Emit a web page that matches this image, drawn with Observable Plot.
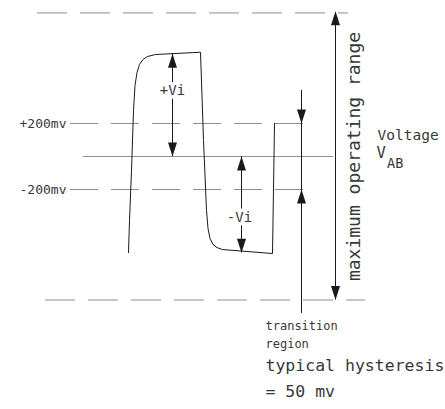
<!DOCTYPE html>
<html>
<head>
<meta charset="utf-8">
<script src="https://cdn.jsdelivr.net/npm/d3@7"></script>
<script src="https://cdn.jsdelivr.net/npm/@observablehq/plot@0.6"></script>
<style>
html, body { margin: 0; padding: 0; background: #fff; }
#chart svg { display: block; }
</style>
</head>
<body>
<div id="chart"></div>
<script>
// ---- data (time in arbitrary units, voltage V_AB in mV) ----
const thresholdLevels = [200, -200];
const thresholdLabels = ["+200mv", "-200mv"];
const rangeLimits = [870, -870];          // maximum operating range
const waveT  = [128, 129, 131, 133, 134.5, 136.5, 139, 142.5, 147, 155, 200, 203, 206, 207.5, 209.5, 212.5, 216.5, 222, 272, 274];
const waveMv = [-582, -388, -85, 279, 430, 509, 558, 588, 606, 618, 632, 97, -327, -436, -497, -533, -552, -564, -588, 200];
const viHighMv = 622;   // +Vi level
const viLowMv = -584;   // -Vi level
const arrowT = { plusVi: 172, minusVi: 241, transition: 301, range: 335 };
const transitionEndMv = [400, -951];
const labelsVi = ["+Vi", "-Vi"];
const labelVoltage = ["Voltage"];
const labelRange = ["maximum operating range"];
const labelTransition = ["transition", "region"];
const labelHysteresis = ["typical hysteresis", "= 50 mv"];

const wave = waveT.map((t, i) => ({ t, mv: waveMv[i] }));
const shafts = [
  { t: arrowT.plusVi, y1: 0, y2: viHighMv },
  { t: arrowT.minusVi, y1: 0, y2: viLowMv },
  { t: arrowT.transition, y1: transitionEndMv[0], y2: transitionEndMv[1] },
  { t: arrowT.range, y1: rangeLimits[0], y2: rangeLimits[1] }
];
const upHeads = [
  { t: arrowT.plusVi, mv: viHighMv },
  { t: arrowT.minusVi, mv: 0 },
  { t: arrowT.transition, mv: thresholdLevels[1] },
  { t: arrowT.range, mv: rangeLimits[0] + 10 }
];
const downHeads = [
  { t: arrowT.plusVi, mv: 0 },
  { t: arrowT.minusVi, mv: viLowMv },
  { t: arrowT.transition, mv: thresholdLevels[0] },
  { t: arrowT.range, mv: rangeLimits[1] }
];

const arrowUp = { draw(c) { c.moveTo(0, 0); c.lineTo(4.5, 14); c.lineTo(-4.5, 14); c.closePath(); } };
const arrowDown = { draw(c) { c.moveTo(0, 0); c.lineTo(4.5, -14); c.lineTo(-4.5, -14); c.closePath(); } };

const gray = "#8e8e8e";
const ink = "#1a1a1a";
const textInk = "#383838";
const font = "DejaVu Sans Mono";

const chart = Plot.plot({
  width: 445,
  height: 409,
  margin: 0,
  x: { domain: [0, 445], range: [0, 445], axis: null },
  y: { domain: [-1533.33, 945.45], range: [409, 0], axis: null },
  style: { fontFamily: font, background: "#fff", color: ink },
  marks: [
    Plot.ruleY([rangeLimits[0]], { x1: 37, x2: 348, stroke: gray, strokeDasharray: "30,13" }),
    Plot.ruleY([rangeLimits[1]], { x1: 45, x2: 365, stroke: gray, strokeDasharray: "30,13" }),
    Plot.ruleY(thresholdLevels, { x1: 70, x2: 310, stroke: gray, strokeDasharray: "28,13" }),
    Plot.ruleY([0], { x1: 83, x2: 333, stroke: gray }),
    Plot.line(wave, { x: "t", y: "mv", stroke: ink, strokeWidth: 1 }),
    Plot.ruleX(shafts, { x: "t", y1: "y1", y2: "y2", stroke: ink, strokeWidth: 1 }),
    Plot.dot(upHeads, { x: "t", y: "mv", symbol: arrowUp, fill: ink, stroke: "none" }),
    Plot.dot(downHeads, { x: "t", y: "mv", symbol: arrowDown, fill: ink, stroke: "none" }),
    Plot.text(thresholdLabels, { x: 66, y: (d, i) => thresholdLevels[i], text: d => d, textAnchor: "end", lineAnchor: "middle", fontSize: 13, fill: textInk }),
    Plot.text([labelsVi[0]], { x: arrowT.plusVi, y: 370, text: d => d, textAnchor: "middle", lineAnchor: "bottom", fontSize: 14, fill: textInk, stroke: "#fff", strokeWidth: 7 }),
    Plot.text([labelsVi[1]], { x: arrowT.minusVi - 2, y: -400, text: d => d, textAnchor: "middle", lineAnchor: "bottom", fontSize: 14, fill: textInk, stroke: "#fff", strokeWidth: 7 }),
    Plot.text(labelVoltage, { x: 377, y: 97, text: d => d, textAnchor: "start", lineAnchor: "bottom", fontSize: 14.5, fill: textInk }),
    Plot.text(["V"], { x: 376, y: -9, text: d => d, textAnchor: "start", lineAnchor: "bottom", fontSize: 15.5, fill: textInk }),
    Plot.text(["AB"], { x: 386.5, y: -67, text: d => d, textAnchor: "start", lineAnchor: "bottom", fontSize: 13.5, fill: textInk }),
    Plot.text(labelRange, { x: 359, y: 0, text: d => d, rotate: -90, textAnchor: "middle", lineAnchor: "bottom", fontSize: 18, fill: textInk }),
    Plot.text(labelTransition, { x: 265, y: (d, i) => [-1054.5, -1163.6][i], text: d => d, textAnchor: "start", lineAnchor: "bottom", fontSize: 12, fill: textInk }),
    Plot.text(labelHysteresis, { x: 265, y: (d, i) => [-1303, -1460.6][i], text: d => d, textAnchor: "start", lineAnchor: "bottom", fontSize: 16.5, fill: textInk })
  ]
});

document.getElementById("chart").appendChild(chart);
</script>
</body>
</html>
